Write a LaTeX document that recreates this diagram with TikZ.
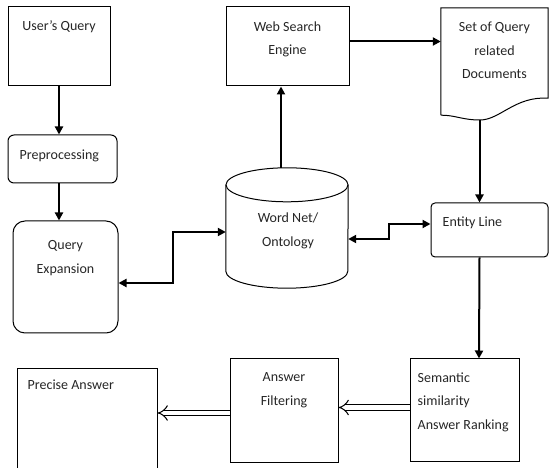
\documentclass[tikz,border=0pt]{standalone}
\usepackage{fontspec}
\setmainfont{Carlito}
\usetikzlibrary{arrows.meta}

\tikzset{
  box/.style={draw, line width=1pt, inner sep=0pt},
  txt/.style={font=\fontsize{14}{23.5}\selectfont, align=center, inner sep=0pt, text=black!85},
  flow/.style={line width=2pt, -{Triangle[length=8pt,width=8pt]}},
  twoway/.style={line width=2pt, {Triangle[length=8pt,width=8pt]}-{Triangle[length=8pt,width=8pt]}},
  hollow/.style={double, double distance=4.5pt, line width=1pt, -{Implies[length=9pt, width=15pt]}}
}

\begin{document}
\begin{tikzpicture}[x=1pt, y=1pt]
    \useasboundingbox (0,0) rectangle (549,468);

    \node[box, minimum width=102, minimum height=79,
          label={[txt, anchor=north, yshift=-14pt]north:{User's Query}}] (userq) at (59, 421.5) {};
    \node[box, rounded corners=6pt, minimum width=109, minimum height=48,
          label={[txt, anchor=north west, xshift=12pt, yshift=-15pt]north west:{Preprocessing}}] (prep) at (62.5, 309) {};
    \node[box, rounded corners=12pt, minimum width=105, minimum height=112,
          label={[txt, anchor=north, yshift=-20pt]north:{Query\\Expansion}}] (qexp) at (65.5, 191) {};

    \node[box, minimum width=123, minimum height=79,
          label={[txt, anchor=north, yshift=-15pt]north:{Web Search\\Engine}}] (wse) at (287.5, 421.5) {};
    \node[inner sep=0pt, minimum width=122, minimum height=120,
          label={[txt, anchor=north, xshift=1pt, yshift=-45pt]north:{Word Net/\\Ontology}}] (wordnet) at (287, 240) {};
    \node[inner sep=0pt, minimum width=107, minimum height=107,
          label={[txt, anchor=north, yshift=-14pt]north:{Set of Query\\related\\Documents}}] (docs) at (494.5, 406.5) {};

    \node[box, rounded corners=4pt, minimum width=117, minimum height=54,
          label={[txt, anchor=north west, xshift=12pt, yshift=-14pt]north west:{Entity Line}}] (entity) at (489.5, 238) {};
    \node[box, minimum width=109, minimum height=103,
          label={[txt, anchor=north west, align=left, xshift=8pt, yshift=-14pt]north west:{Semantic\\similarity\\Answer Ranking}}] (sem) at (464.5, 57.5) {};
    \node[box, minimum width=108, minimum height=104,
          label={[txt, anchor=north, yshift=-14pt]north:{Answer\\Filtering}}] (filt) at (284, 57) {};
    \node[box, minimum width=140, minimum height=109,
          label={[txt, anchor=north west, xshift=11pt, yshift=-11pt]north west:{Precise Answer}}] (precise) at (87, 44.5) {};

    % cylinder
    \draw[line width=1pt] ([yshift=-17pt]wordnet.north) ellipse [x radius=61, y radius=17];
    \draw[line width=1pt] ([yshift=-17pt]wordnet.north west) -- ([yshift=17pt]wordnet.south west)
        arc[start angle=180, end angle=360, x radius=61, y radius=17] -- ([yshift=-17pt]wordnet.north east);

    % document
    \draw[line width=1pt] (docs.south west) -- (docs.north west) -- (docs.north east) -- ([yshift=17pt]docs.south east)
        .. controls (515, 372) and (500, 348) .. (480, 348)
        .. controls (462, 348) and (455, 353) .. (docs.south west);
    \coordinate (docwave) at (479.5, 348);

    \draw[flow] (userq.south) -- (userq.south |- prep.north);
    \draw[flow] (userq.south |- prep.south) -- (userq.south |- qexp.north);
    \draw[flow] ([xshift=-6pt]wordnet.north) -- ([xshift=-6pt]wordnet.north |- wse.south);
    \draw[flow] ([yshift=5pt]wse.east) -- ([yshift=5pt]wse.east -| docs.west);
    \draw[flow] (docwave) -- (docwave |- entity.north);
    \draw[flow] (entity.south -| docwave) -- ([xshift=-0.5pt]docwave |- sem.north);
    \draw[twoway] ([yshift=-6pt]qexp.east) -- ++(54,0) |- ([yshift=-4pt]wordnet.west);
    \draw[twoway] ([yshift=-11pt]wordnet.east) -- ++(41,0) |- ([yshift=6pt]entity.west);

    \draw[hollow] ([yshift=3pt]sem.west) -- ([yshift=3pt]sem.west -| filt.east);
    \draw[hollow] ([yshift=-2pt]filt.west) -- ([yshift=-2pt]filt.west -| precise.east);
\end{tikzpicture}
\end{document}
